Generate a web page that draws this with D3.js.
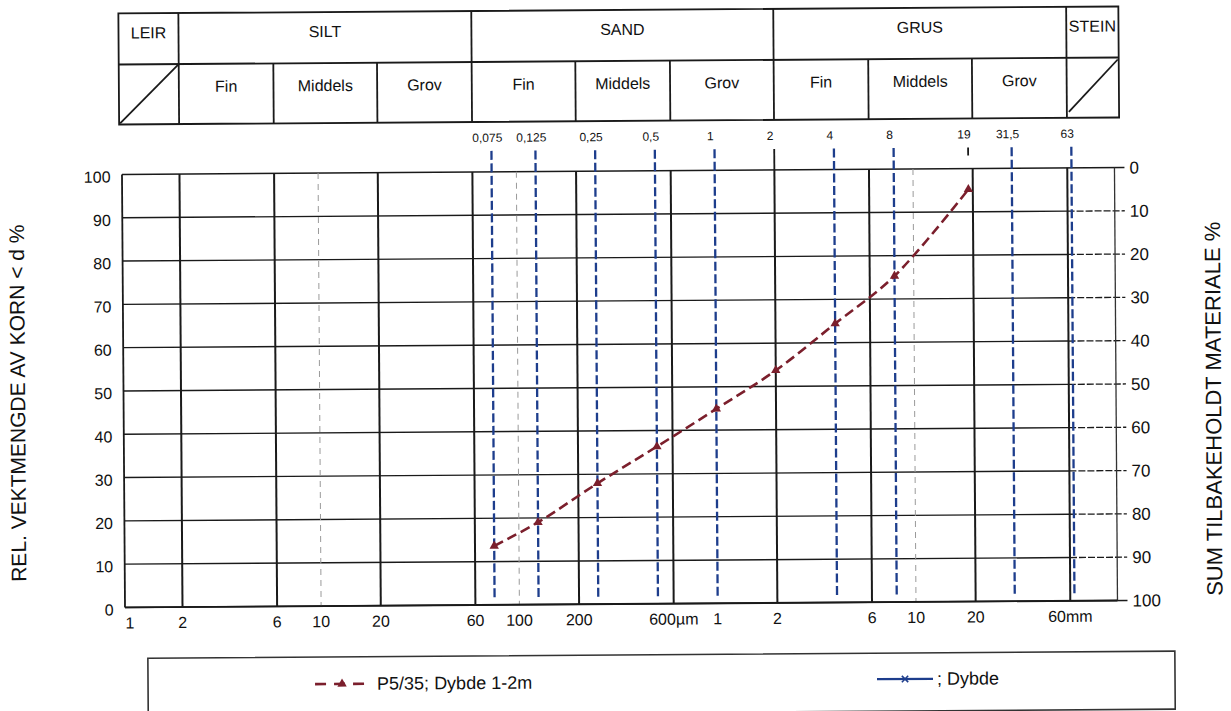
<!DOCTYPE html>
<html><head><meta charset="utf-8">
<script src="https://cdn.jsdelivr.net/npm/d3@7"></script>
<style>
body{margin:0;background:#fff}
svg{display:block}
text{font-family:"Liberation Sans",Arial,sans-serif;fill:#111}
</style>
</head><body>
<svg id="c" width="1231" height="711"></svg>
<script>
// ---------- data ----------
const sieveSizes = [0.075, 0.125, 0.25, 0.5, 1, 2, 4, 8, 19];          // mm
const passing    = [13.6, 19.0, 27.9, 36.3, 44.9, 53.7, 64.4, 75.3, 95.2]; // %
const seriesName  = "P5/35; Dybde 1-2m";
const seriesName2 = "; Dybde";

const topTicks      = [0.075, 0.125, 0.25, 0.5, 1, 2, 4, 8, 19, 31.5, 63];
const topTickLabels = ["0,075","0,125","0,25","0,5","1","2","4","8","19","31,5","63"];
const blackTopTicks = [2, 19];
const blueLines     = [0.075, 0.125, 0.25, 0.5, 1, 4, 8, 31.5, 63];
const majorLines    = [0.002, 0.006, 0.02, 0.06, 0.2, 0.6, 2, 6, 20, 60];
const minorLines    = [0.01, 0.1, 10];
const bottomTicks   = [0.001, 0.002, 0.006, 0.01, 0.02, 0.06, 0.1, 0.2, 0.6, 1, 2, 6, 10, 20, 60];
const bottomLabels  = ["1","2","6","10","20","60","100","200","600µm","1","2","6","10","20","60mm"];
const yTicks        = [0,10,20,30,40,50,60,70,80,90,100];

const mainClasses = ["LEIR","SILT","SAND","GRUS","STEIN"];
const mainBounds  = [0.002, 0.06, 2, 60];
const subClasses  = ["Fin","Middels","Grov"];
const subBounds   = [[0.002,0.006,0.02,0.06],[0.06,0.2,0.6,2],[2,6,20,60]];

const yTitleLeft  = "REL. VEKTMENGDE AV KORN < d %";
const yTitleRight = "SUM TILBAKEHOLDT MATERIALE %";

// ---------- layout ----------
const BLACK = "#1a1a1a", BLUE = "#1d3d8c", RED = "#7b1f2c", GREY = "#9a9a9a";
const frameL = 123.5, frameR = 1116, tickEnd = 1126;
const tblTop = 10, tblMid = 61, tblBot = 121, tblL = 121, tblR = 1121;

const x  = d3.scaleLog().domain([0.001, 100]).range([121.3, 1112.8]);
const y  = d3.scaleLinear().domain([0, 100]).range([604, 171]);
const yR = d3.scaleLinear().domain([0, 100]).range([171, 604]);

const svg  = d3.select("#c");
const root = svg.append("g").attr("transform", "rotate(-0.4,618,390)");

// ---------- header table ----------
const tbl = root.append("g").attr("fill","none").attr("stroke",BLACK).attr("stroke-width",1.8);
tbl.append("rect").attr("x",tblL).attr("y",tblTop).attr("width",tblR-tblL).attr("height",tblBot-tblTop);
tbl.append("line").attr("x1",tblL).attr("x2",tblR).attr("y1",tblMid).attr("y2",tblMid);
const mainEdges = [tblL, ...mainBounds.map(x), tblR];
mainBounds.forEach(b => tbl.append("line").attr("x1",x(b)).attr("x2",x(b)).attr("y1",tblTop).attr("y2",tblBot));
subBounds.forEach(sb => sb.slice(1,3).forEach(b =>
  tbl.append("line").attr("x1",x(b)).attr("x2",x(b)).attr("y1",tblMid).attr("y2",tblBot)));
// diagonals
tbl.append("line").attr("x1",tblL+1).attr("y1",tblBot-1).attr("x2",x(0.002)).attr("y2",tblMid);
tbl.append("line").attr("x1",x(60)+2).attr("y1",tblBot-6).attr("x2",tblR-1).attr("y2",tblMid+2);

mainClasses.forEach((n,i) => {
  root.append("text").attr("x",(mainEdges[i]+mainEdges[i+1])/2).attr("y",35)
    .attr("text-anchor","middle").attr("font-size",16).text(n);
});
subBounds.forEach(sb => {
  subClasses.forEach((n,i) => {
    root.append("text").attr("x",(x(sb[i])+x(sb[i+1]))/2).attr("y",89)
      .attr("text-anchor","middle").attr("font-size",16).text(n);
  });
});

// top tick labels
topTicks.forEach((v,i) => {
  root.append("text").attr("x",x(v)-4).attr("y",141).attr("text-anchor","middle")
    .attr("font-size",12).text(topTickLabels[i]);
});
blackTopTicks.forEach(v => root.append("line").attr("x1",x(v)).attr("x2",x(v))
  .attr("y1",150).attr("y2",v===2?y(100):158).attr("stroke",BLACK).attr("stroke-width",1.8));

// ---------- grid ----------
const grid = root.append("g");
yTicks.forEach(t => {
  const inner = t>0 && t<100;
  grid.append("line").attr("x1",frameL).attr("x2",inner?x(60):tickEnd).attr("y1",y(t)).attr("y2",y(t))
    .attr("stroke",BLACK).attr("stroke-width",1.4);
  if (inner) grid.append("line").attr("x1",x(60)).attr("x2",tickEnd).attr("y1",y(t)).attr("y2",y(t))
    .attr("stroke",BLACK).attr("stroke-width",1.3).attr("stroke-dasharray","7,2");
});
minorLines.forEach(v => grid.append("line").attr("x1",x(v)).attr("x2",x(v)).attr("y1",y(100)).attr("y2",y(0))
  .attr("stroke",GREY).attr("stroke-width",1).attr("stroke-dasharray","6,5"));
majorLines.forEach(v => grid.append("line").attr("x1",x(v)).attr("x2",x(v)).attr("y1",y(100)).attr("y2",y(0))
  .attr("stroke",BLACK).attr("stroke-width",2));
blueLines.forEach(v => grid.append("line").attr("x1",x(v)).attr("x2",x(v)).attr("y1",150).attr("y2",y(0)-4)
  .attr("stroke",BLUE).attr("stroke-width",2.3).attr("stroke-dasharray","9,3.5"));

// frame
grid.append("line").attr("x1",frameL).attr("x2",frameL).attr("y1",y(100)).attr("y2",y(0)).attr("stroke",BLACK).attr("stroke-width",1.8);
grid.append("line").attr("x1",frameR).attr("x2",frameR).attr("y1",y(100)).attr("y2",y(0)).attr("stroke","#333").attr("stroke-width",1.3);
grid.append("line").attr("x1",frameL).attr("x2",frameR).attr("y1",y(0)).attr("y2",y(0)).attr("stroke",BLACK).attr("stroke-width",1.8);

// ---------- axes labels ----------
yTicks.forEach(t => {
  root.append("text").attr("x",112).attr("y",y(t)+8).attr("text-anchor","end").attr("font-size",16).text(t);
  root.append("text").attr("x",1131).attr("y",yR(t)+6).attr("text-anchor","start").attr("font-size",17).text(t);
});
bottomTicks.forEach((v,i) => {
  root.append("text").attr("x",x(v)+(i===0?7:0)).attr("y",625).attr("text-anchor","middle")
    .attr("font-size",16).text(bottomLabels[i]);
});
root.append("text").attr("transform","translate(25,399) rotate(-90)").attr("text-anchor","middle")
  .attr("font-size",21).text(yTitleLeft);
root.append("text").attr("transform","translate(1221,413) rotate(-90)").attr("text-anchor","middle")
  .attr("font-size",22).text(yTitleRight);

// ---------- series ----------
const pts = sieveSizes.map((s,i) => [s, passing[i]]);
const line = d3.line().x(d => x(d[0])).y(d => y(d[1])).curve(d3.curveCatmullRom.alpha(0.5));
root.append("path").attr("d",line(pts)).attr("fill","none").attr("stroke",RED)
  .attr("stroke-width",2.6).attr("stroke-dasharray","10,5");
const tri = d3.symbol(d3.symbolTriangle).size(38);
root.selectAll(".mk").data(pts).join("path").attr("class","mk")
  .attr("transform",d => `translate(${x(d[0])},${y(d[1])})`).attr("d",tri).attr("fill",RED);

// ---------- legend ----------
const lg = root.append("g");
lg.append("rect").attr("x",146).attr("y",655).attr("width",1027).attr("height",58)
  .attr("fill","none").attr("stroke","#333").attr("stroke-width",1.6);
lg.append("line").attr("x1",313).attr("x2",368).attr("y1",682).attr("y2",682)
  .attr("stroke",RED).attr("stroke-width",2.6).attr("stroke-dasharray","11,8");
lg.append("path").attr("transform","translate(340,682)").attr("d",tri).attr("fill",RED);
lg.append("text").attr("x",375).attr("y",688).attr("font-size",18).text(seriesName);
lg.append("line").attr("x1",875).attr("x2",931).attr("y1",681).attr("y2",681)
  .attr("stroke",BLUE).attr("stroke-width",2.2);
lg.append("path").attr("transform","translate(903,681)").attr("d",d3.symbol(d3.symbolTimes).size(28))
  .attr("fill","none").attr("stroke",BLUE).attr("stroke-width",1.6);
lg.append("text").attr("x",935).attr("y",687).attr("font-size",18).text(seriesName2);
</script>
</body></html>
